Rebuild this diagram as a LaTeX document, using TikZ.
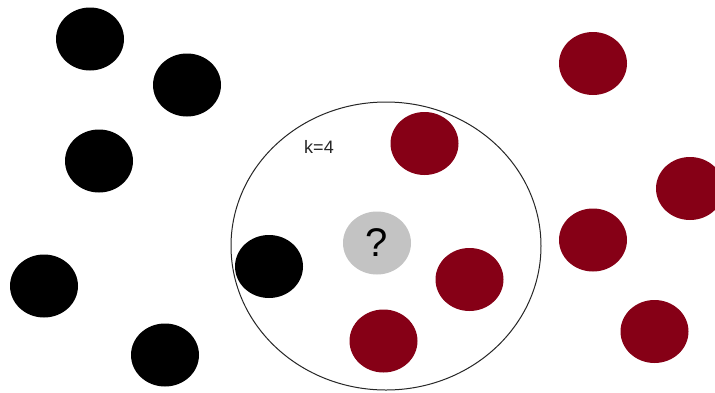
\documentclass[tikz,border=0pt]{standalone}
\usepackage{fontspec}
\setmainfont{Liberation Sans}
\definecolor{wine}{RGB}{134,0,22}
\definecolor{qgray}{RGB}{195,195,195}
\tikzset{
  dot/.style={ellipse, minimum width=68pt, minimum height=63pt, inner sep=0pt},
  blackdot/.style={dot, fill=black},
  reddot/.style={dot, fill=wine},
  qdot/.style={dot, fill=qgray, font=\fontsize{40}{44}\selectfont},
  bigcircle/.style={ellipse, draw=black!85, line width=1pt, minimum width=310pt, minimum height=288pt, inner sep=0pt},
  lbl/.style={font=\fontsize{18}{20}\selectfont, text=black!85, inner sep=0pt}
}
\usetikzlibrary{shapes.geometric}
\begin{document}
\begin{tikzpicture}[x=1pt,y=-1pt]
\clip (0,0) rectangle (715,392);
\fill[white] (0,0) rectangle (715,392);
\node[bigcircle] (k) at (386,246) {};
\node[lbl] (klbl) at (319,147) {k=4};
% black points
\node[blackdot] (b1) at (90,39) {};
\node[blackdot] (b2) at (187,85) {};
\node[blackdot] (b3) at (99,161) {};
\node[blackdot] (b4) at (44,286) {};
\node[blackdot] (b5) at (165,355) {};
\node[blackdot] (b6) at (269,266.5) {};
% red points
\node[reddot] (r1) at (593,63.5) {};
\node[reddot] (r2) at (424.5,143.5) {};
\node[reddot] (r3) at (690,188.5) {};
\node[reddot] (r4) at (593,240) {};
\node[reddot] (r5) at (469.5,279.5) {};
\node[reddot] (r6) at (383.5,341) {};
\node[reddot] (r7) at (654.5,331.5) {};
% query point
\node[qdot] (q) at (377,243) {?};
\end{tikzpicture}
\end{document}
